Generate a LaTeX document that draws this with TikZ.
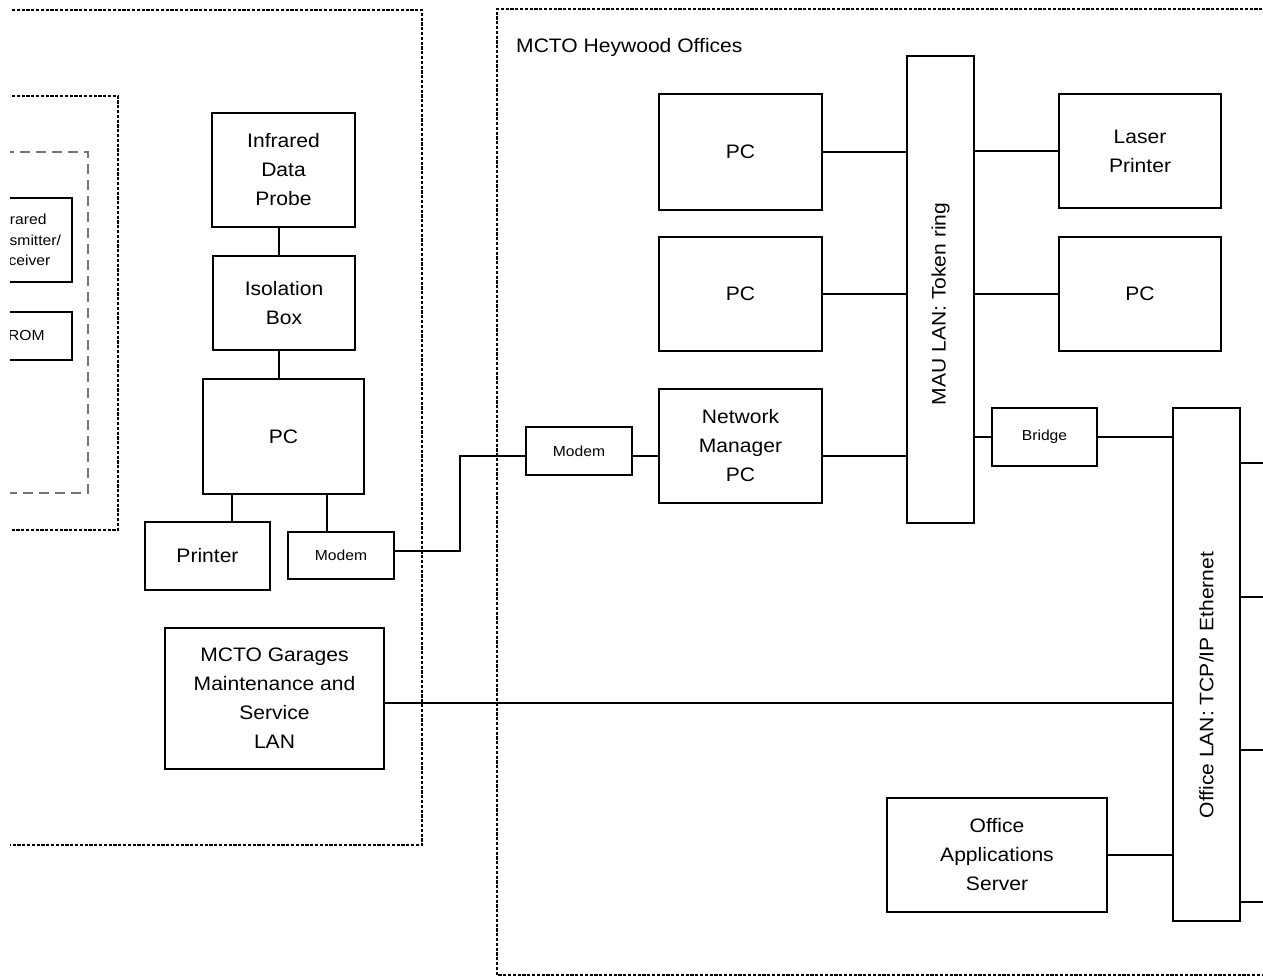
\documentclass[tikz,border=0pt]{standalone}
\usepackage{fontspec}
\setmainfont{Liberation Sans}[FakeStretch=1.08]
\begin{document}
\begin{tikzpicture}[x=1pt,y=-1pt,
  box/.style={draw, line width=2pt, fill=white, align=center, inner sep=0pt,
    font=\fontsize{19.5}{29}\selectfont},
  smallbox/.style={box, font=\fontsize{14.5}{20.5}\selectfont},
  label/.style={inner sep=0pt, font=\fontsize{19.5}{29}\selectfont},
  wire/.style={line width=2pt},
  zone/.style={line width=2.5pt, dash pattern=on 3.2pt off 1.6pt},
  subzone/.style={line width=1.3pt, black!55, dash pattern=on 10pt off 6pt}]
\useasboundingbox (0,0) rectangle (1263,979);
\clip (10,0) rectangle (1263,979);

% site boundaries
\draw[zone] (-60,10) -| (422,845) -- (-60,845);
\draw[zone] (1320,9) -| (497,975) -- (1320,975);
\draw[zone] (-60,96) -| (118,530) -- (-60,530);
\draw[subzone] (-60,152) -| (88,493) -- (-60,493);
\node[label, anchor=base west] (heywood) at (516,53) {MCTO Heywood Offices};

% bus-side equipment
\node[smallbox, minimum width=104, minimum height=84] (trx) at (19.5,240) {Infrared\\Transmitter/\\Receiver};
\node[smallbox, minimum width=111, minimum height=48] (rom) at (16,336) {EPROM};

% garage-side equipment
\node[box, minimum width=143, minimum height=114] (probe) at (283.5,170) {Infrared\\Data\\Probe};
\node[box, minimum width=142, minimum height=94] (iso) at (284,303) {Isolation\\Box};
\node[box, minimum width=161, minimum height=115] (pcL) at (283.5,436.5) {PC};
\node[box, minimum width=125, minimum height=68] (printer) at (207.5,556) {Printer};
\node[smallbox, minimum width=106, minimum height=47] (modemL) at (341,555.5) {Modem};
\node[box, minimum width=219, minimum height=141] (garages) at (274.5,698.5) {MCTO Garages\\Maintenance and\\Service\\LAN};

% Heywood offices
\node[smallbox, minimum width=106, minimum height=48] (modemR) at (579,451) {Modem};
\node[box, minimum width=163, minimum height=114] (netmgr) at (740.5,446) {Network\\Manager\\PC};
\node[box, minimum width=163, minimum height=116] (pc1) at (740.5,152) {PC};
\node[box, minimum width=163, minimum height=114] (pc2) at (740.5,294) {PC};
\node[box, minimum width=67, minimum height=467] (mau) at (940.5,289.5) {};
\node[label, rotate=90] (maulabel) at (940.5,304) {MAU LAN: Token ring};
\node[box, minimum width=162, minimum height=114] (laser) at (1140,151) {Laser\\Printer};
\node[box, minimum width=162, minimum height=114] (pc3) at (1140,294) {PC};
\node[smallbox, minimum width=105, minimum height=58] (bridge) at (1044.5,437) {Bridge};
\node[box, minimum width=67, minimum height=513] (olan) at (1206.5,664.5) {};
\node[label, rotate=90] (olanlabel) at (1206.5,685) {Office LAN: TCP/IP Ethernet};
\node[box, minimum width=220, minimum height=114] (server) at (997,855) {Office\\Applications\\Server};

% free ends of the Ethernet drops
\coordinate (drop1) at (1275,463);
\coordinate (drop2) at (1275,597);
\coordinate (drop3) at (1275,750);
\coordinate (drop4) at (1275,902);

% connections
\draw[wire] (probe.south -| 279,0) -- (iso.north -| 279,0);
\draw[wire] (iso.south -| 279,0) -- (pcL.north -| 279,0);
\draw[wire] (pcL.south -| 232,0) -- (printer.north -| 232,0);
\draw[wire] (pcL.south -| 327,0) -- (modemL.north -| 327,0);
\draw[wire] (modemL.east |- 0,551) -| (460,456) -- (modemR.west |- 0,456);
\draw[wire] (modemR.east |- 0,456) -- (netmgr.west |- 0,456);
\draw[wire] (netmgr.east |- 0,456) -- (mau.west |- 0,456);
\draw[wire] (pc1) -- (pc1 -| mau.west);
\draw[wire] (pc2) -- (pc2 -| mau.west);
\draw[wire] (laser) -- (laser -| mau.east);
\draw[wire] (pc3) -- (pc3 -| mau.east);
\draw[wire] (bridge) -- (bridge -| mau.east);
\draw[wire] (bridge) -- (bridge -| olan.west);
\draw[wire] (garages.east |- 0,703) -- (olan.west |- 0,703);
\draw[wire] (server) -- (server -| olan.west);
\foreach \d in {drop1,drop2,drop3,drop4}
  \draw[wire] (olan.east |- \d) -- (\d);
\end{tikzpicture}
\end{document}
